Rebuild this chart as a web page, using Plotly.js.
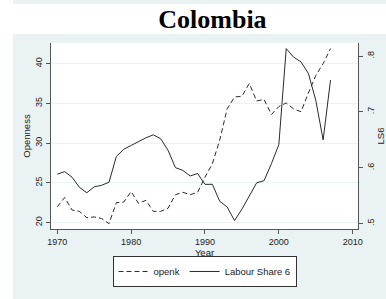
<!DOCTYPE html>
<html>
<head>
<meta charset="utf-8">
<script src="https://cdn.plot.ly/plotly-3.0.1.min.js"></script>
<style>
  html, body { margin: 0; padding: 0; background: #ffffff; }
  #wrap { position: relative; width: 386px; height: 299px; overflow: hidden; background: #ffffff; }
  #bgTop { position: absolute; left: 13px; top: 0; width: 373px; height: 4px; background: #eaf2f3; }
  #bgMain { position: absolute; left: 13px; top: 34px; width: 373px; height: 265px; background: #eaf2f3; }
  #chart { position: absolute; left: 0; top: 0; width: 386px; height: 299px; }
</style>
</head>
<body>
<div id="wrap">
  <div id="bgTop"></div>
  <div id="bgMain"></div>
  <div id="chart"></div>
</div>
<script>
const years = [1970,1971,1972,1973,1974,1975,1976,1977,1978,1979,
               1980,1981,1982,1983,1984,1985,1986,1987,1988,1989,
               1990,1991,1992,1993,1994,1995,1996,1997,1998,1999,
               2000,2001,2002,2003,2004,2005,2006,2007];
const openk = [21.97,23.15,21.57,21.4,20.6,20.7,20.5,19.85,22.5,22.56,
               23.9,22.4,22.8,21.4,21.4,21.8,23.5,23.8,23.5,23.8,
               25.7,27.4,30.4,34.3,35.8,35.9,37.5,35.3,35.5,33.6,
               34.6,35.05,34.3,33.95,36.3,38.5,40.0,41.9];
const ls6 = [0.5887,0.5932,0.5832,0.5649,0.5554,0.5659,0.5687,0.5742,0.6203,0.6331,
             0.6400,0.6475,0.6536,0.659,0.652,0.6314,0.6003,0.5953,0.5854,0.5898,
             0.5704,0.5704,0.540,0.530,0.5055,0.526,0.550,0.5732,0.577,0.6075,
             0.6415,0.8133,0.798,0.7895,0.769,0.721,0.650,0.757];
const leftTicks = [20,25,30,35,40];
const rightTickVals = [0.5,0.6,0.7,0.8];
const rightTickText = ['.5','.6','.7','.8'];
const xTicks = [1970,1980,1990,2000,2010];

const fontFam = 'Liberation Sans, Arial, sans-serif';
const lineCol = '#2a2a2a';

const traces = [
  {x: years, y: openk, name: 'openk', type: 'scatter', mode: 'lines',
   line: {color: lineCol, width: 1, dash: '5px,3px'}, yaxis: 'y'},
  {x: years, y: ls6, name: 'Labour Share 6', type: 'scatter', mode: 'lines',
   line: {color: lineCol, width: 1}, yaxis: 'y2'}
];

const layout = {
  width: 386, height: 299,
  margin: {l: 51, r: 28, t: 43, b: 56},
  paper_bgcolor: 'rgba(0,0,0,0)',
  plot_bgcolor: '#ffffff',
  font: {family: fontFam, size: 9, color: '#222'},
  title: {text: '<b>Colombia</b>', font: {family: 'Liberation Serif, Times New Roman, serif', size: 26, color: '#000'},
          x: 203/386, xanchor: 'center', xref: 'paper', y: 1 - 28/299, yanchor: 'bottom', yref: 'container'},
  showlegend: true,
  legend: {orientation: 'h', x: 0.5, xanchor: 'center', y: -0.145, yanchor: 'top',
           bgcolor: '#ffffff', bordercolor: '#333', borderwidth: 1,
           font: {family: fontFam, size: 9.5, color: '#222'}, traceorder: 'normal'},
  xaxis: {range: [1969.15, 2010.72], tickvals: xTicks, ticks: 'outside', ticklen: 4,
          tickcolor: '#555', showline: true, linecolor: '#555', linewidth: 1,
          showgrid: false, zeroline: false, tickfont: {size: 9},
          title: {text: 'Year', standoff: 0, font: {size: 9.5}}},
  yaxis: {range: [19.18, 42.6], tickvals: leftTicks, tickangle: -90, ticks: 'outside', ticklen: 4,
          tickcolor: '#555', showline: true, linecolor: '#555', linewidth: 1,
          showgrid: true, gridcolor: '#eaf2f3', gridwidth: 1, zeroline: false,
          tickfont: {size: 9}, title: {text: 'Openness', standoff: 2, font: {size: 9.5}}},
  yaxis2: {range: [0.4905, 0.8233], overlaying: 'y', side: 'right', tickvals: rightTickVals,
           ticktext: rightTickText, tickangle: -90, ticks: 'outside', ticklen: 4, tickcolor: '#555',
           showline: true, linecolor: '#555', linewidth: 1, showgrid: false, zeroline: false,
           tickfont: {size: 9}, title: {text: 'LS6', standoff: 2, font: {size: 9.5}}}
};

Plotly.newPlot('chart', traces, layout, {staticPlot: true, displayModeBar: false});
</script>
</body>
</html>
